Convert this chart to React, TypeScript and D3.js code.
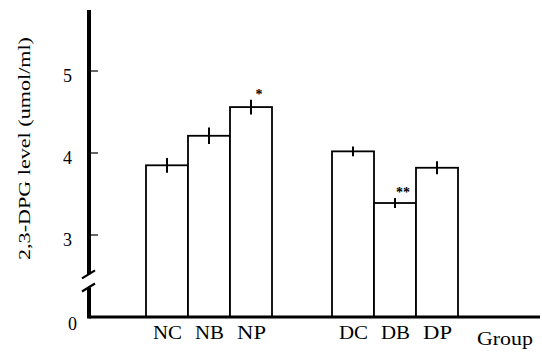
import { useRef, useEffect } from 'react';
import * as d3 from 'd3';

const groups = ['N', 'D'];
const treatments = ['C', 'B', 'P'];
const means = [
  [3.85, 4.21, 4.56],
  [4.02, 3.39, 3.82],
];
const errors = [
  [0.09, 0.1, 0.09],
  [0.06, 0.06, 0.08],
];
const marks = [
  ['', '', '*'],
  ['', '**', ''],
];
const yTicks = [3, 4, 5];

export default function App() {
  const svgRef = useRef<SVGSVGElement>(null);
  const width = 542;
  const height = 353;

  useEffect(() => {
    if (!svgRef.current) return;
    const svg = d3.select(svgRef.current);
    svg.selectAll('*').remove();

    const axisX = 89;
    const baseY = 317;
    const font = '"Liberation Serif", "Times New Roman", serif';

    const y = d3.scaleLinear().domain([2, 5]).range([317, 71]);
    const gx = d3.scaleBand().domain(groups).range([146, 458]).paddingInner(60 / 186);
    const bx = d3.scaleBand().domain(treatments).range([0, gx.bandwidth()]);

    const g = svg.append('g');

    // Bars
    groups.forEach((grp, gi) => {
      treatments.forEach((t, ti) => {
        const v = means[gi][ti];
        const x0 = gx(grp)! + bx(t)!;
        const cx = x0 + bx.bandwidth() / 2;
        g.append('rect')
          .attr('x', x0)
          .attr('y', y(v))
          .attr('width', bx.bandwidth())
          .attr('height', baseY - y(v))
          .attr('fill', '#fff')
          .attr('stroke', '#000')
          .attr('stroke-width', 1.8);
        g.append('line')
          .attr('x1', cx).attr('x2', cx)
          .attr('y1', y(v + errors[gi][ti]))
          .attr('y2', y(v - errors[gi][ti]))
          .attr('stroke', '#000')
          .attr('stroke-width', 2);
        if (marks[gi][ti]) {
          g.append('text')
            .attr('x', cx + 8)
            .attr('y', y(v + errors[gi][ti]) - 1)
            .attr('text-anchor', 'middle')
            .attr('font-family', font)
            .attr('font-weight', 'bold')
            .attr('font-size', 14)
            .attr('fill', '#000')
            .text(marks[gi][ti]);
        }
        g.append('text')
          .attr('x', cx - 14)
          .attr('y', 339)
          .attr('font-family', font)
          .attr('font-size', 18)
          .attr('textLength', 29)
          .attr('lengthAdjust', 'spacingAndGlyphs')
          .attr('fill', '#000')
          .text(grp + t);
      });
    });

    // Baseline
    g.append('line')
      .attr('x1', axisX).attr('x2', 540)
      .attr('y1', baseY).attr('y2', baseY)
      .attr('stroke', '#000').attr('stroke-width', 3);

    // Y axis with break
    const breakTop = y(2.52);
    const breakBot = y(2.36);
    g.append('line')
      .attr('x1', axisX).attr('x2', axisX)
      .attr('y1', 10).attr('y2', breakTop)
      .attr('stroke', '#000').attr('stroke-width', 4);
    g.append('line')
      .attr('x1', axisX).attr('x2', axisX)
      .attr('y1', breakBot).attr('y2', baseY + 1.5)
      .attr('stroke', '#000').attr('stroke-width', 4);
    [breakTop, breakBot].forEach((by) => {
      g.append('line')
        .attr('x1', axisX - 7).attr('x2', axisX + 6)
        .attr('y1', by + 4).attr('y2', by - 4)
        .attr('stroke', '#000').attr('stroke-width', 2.2);
    });

    yTicks.forEach((t) => {
      g.append('line')
        .attr('x1', axisX).attr('x2', axisX + 9)
        .attr('y1', y(t)).attr('y2', y(t))
        .attr('stroke', '#000').attr('stroke-width', 1.2);
      g.append('text')
        .attr('x', 72)
        .attr('y', y(t) + 11)
        .attr('text-anchor', 'end')
        .attr('font-family', font)
        .attr('font-size', 18)
        .attr('fill', '#000')
        .text(String(t));
    });
    g.append('text')
      .attr('x', 77).attr('y', 330)
      .attr('text-anchor', 'end')
      .attr('font-family', font).attr('font-size', 18)
      .attr('fill', '#000')
      .text('0');

    g.append('text')
      .attr('x', 477).attr('y', 345)
      .attr('font-family', font).attr('font-size', 18)
      .attr('textLength', 56)
      .attr('lengthAdjust', 'spacingAndGlyphs')
      .attr('fill', '#000')
      .text('Group');

    g.append('text')
      .attr('transform', 'translate(30,260) rotate(-90)')
      .attr('font-family', font).attr('font-size', 17)
      .attr('textLength', 223)
      .attr('lengthAdjust', 'spacingAndGlyphs')
      .attr('fill', '#000')
      .text('2,3-DPG level (umol/ml)');
  }, []);

  return (
    <div style={{ position: 'absolute', left: 0, top: 0 }}>
      <svg ref={svgRef} width={width} height={height} style={{ display: 'block', background: '#fff' }} />
    </div>
  );
}
